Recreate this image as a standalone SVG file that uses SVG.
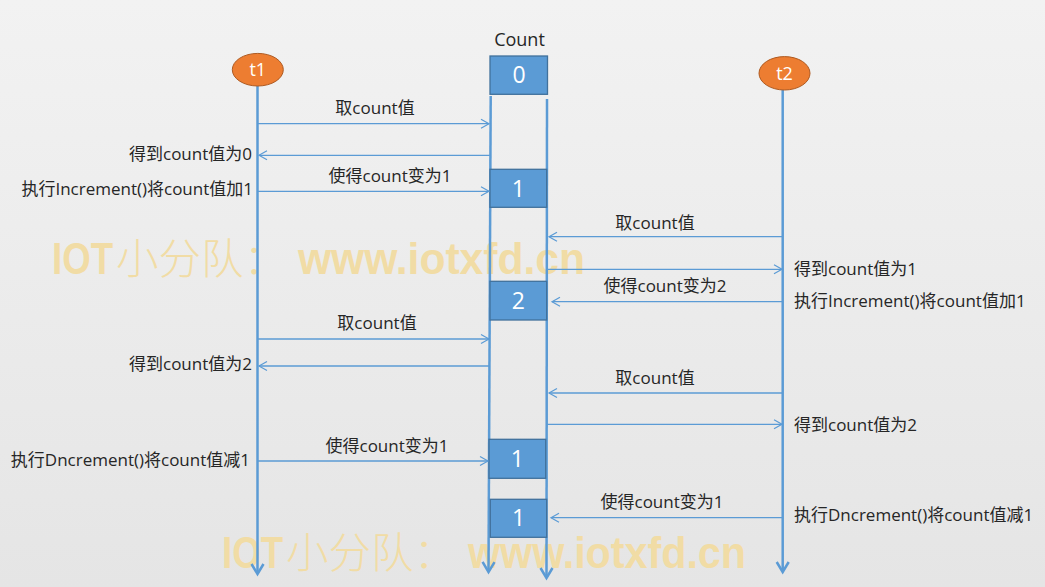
<svg xmlns="http://www.w3.org/2000/svg" width="1045" height="587" viewBox="0 0 1045 587">
<defs>
<linearGradient id="bg" x1="0" y1="0" x2="0" y2="1">
<stop offset="0" stop-color="#F2F2F2"/>
<stop offset="1" stop-color="#E5E5E5"/>
</linearGradient>
<marker id="ah" markerUnits="userSpaceOnUse" markerWidth="12" markerHeight="12" viewBox="0 0 12 12" refX="9" refY="6" orient="auto">
<path d="M1,1.5 L9,6 L1,10.5" fill="none" stroke="#5B9BD5" stroke-width="1.2"/>
</marker>
<marker id="vh" markerUnits="userSpaceOnUse" markerWidth="16" markerHeight="16" viewBox="0 0 16 16" refX="12" refY="8" orient="auto">
<path d="M2,2 L12,8 L2,14" fill="none" stroke="#5B9BD5" stroke-width="2.5"/>
</marker>
</defs>
<style>
.life{stroke:#5B9BD5;stroke-width:2.5;fill:none;marker-end:url(#vh)}
.msg{stroke:#5B9BD5;stroke-width:1.3;fill:none;marker-end:url(#ah)}
.lbl{font-family:"Open Sans","Noto Sans CJK SC",sans-serif;font-size:17px;fill:#262626}
.mid{text-anchor:middle}
.end{text-anchor:end}
.box{fill:#5B9BD5;stroke:#41719C;stroke-width:1.3}
.num{font-family:"Open Sans","Noto Sans CJK SC",sans-serif;font-size:23px;fill:#FFFFFF;text-anchor:middle}
.thr{fill:#ED7D31;stroke:#AE5A21;stroke-width:1}
.tt{font-family:"Open Sans",sans-serif;font-size:18px;fill:#FFFFFF;text-anchor:middle}
.wm{fill:#F1DCA5}
.wl{font-family:"Liberation Sans",sans-serif;font-weight:bold;font-size:45px}
.wc{font-family:"Noto Sans CJK SC",sans-serif;font-weight:300;font-size:42px}
</style>
<rect x="0" y="0" width="1045" height="587" fill="url(#bg)"/>
<g id="watermark" class="wm">
<text y="274"><tspan class="wl" x="52" textLength="61" lengthAdjust="spacingAndGlyphs">IOT</tspan><tspan class="wc" x="116" textLength="170" lengthAdjust="spacingAndGlyphs">小分队：</tspan><tspan class="wl" x="298" textLength="287" lengthAdjust="spacingAndGlyphs">www.iotxfd.cn</tspan></text>
<text y="568"><tspan class="wl" x="222" textLength="61" lengthAdjust="spacingAndGlyphs">IOT</tspan><tspan class="wc" x="286" textLength="170" lengthAdjust="spacingAndGlyphs">小分队：</tspan><tspan class="wl" x="468" textLength="278" lengthAdjust="spacingAndGlyphs">www.iotxfd.cn</tspan></text>
</g>
<g id="lifelines">
<line class="life" x1="257.5" y1="86" x2="257.5" y2="574"/>
<line class="life" x1="490.7" y1="96" x2="488.5" y2="572"/>
<line class="life" x1="547" y1="99" x2="546.5" y2="578"/>
<line class="life" x1="782.7" y1="90" x2="782.7" y2="572"/>
</g>
<g id="t1">
<ellipse class="thr" cx="257.8" cy="69.7" rx="25.5" ry="16.3"/>
<text class="tt" x="257.8" y="76">t1</text>
</g>
<g id="t2">
<ellipse class="thr" cx="784.5" cy="73.3" rx="25.5" ry="16.7"/>
<text class="tt" x="784.5" y="79.5">t2</text>
</g>
<g id="count">
<text class="lbl mid" x="519.5" y="46" style="font-size:18px">Count</text>
<rect class="box" x="490" y="56" width="57.5" height="38.3"/>
<text class="num" x="519" y="83">0</text>
</g>
<g id="v1a">
<rect class="box" x="490" y="169.3" width="56.7" height="38"/>
<text class="num" x="518.3" y="196.5">1</text>
</g>
<g id="v2">
<rect class="box" x="490" y="281.3" width="56.7" height="38.7"/>
<text class="num" x="518.3" y="309">2</text>
</g>
<g id="v1b">
<rect class="box" x="489" y="439.3" width="56.7" height="39"/>
<text class="num" x="517.3" y="467">1</text>
</g>
<g id="v1c">
<rect class="box" x="490.3" y="499.3" width="56.4" height="38"/>
<text class="num" x="518.5" y="526">1</text>
</g>
<g id="connectors">
<line class="msg" x1="258" y1="123.7" x2="489" y2="123.7"/>
<line class="msg" x1="490" y1="155.3" x2="259" y2="155.3"/>
<line class="msg" x1="258" y1="191.3" x2="489" y2="191.3"/>
<line class="msg" x1="782" y1="236.7" x2="549" y2="236.7"/>
<line class="msg" x1="547" y1="269.3" x2="782" y2="269.3"/>
<line class="msg" x1="782" y1="301.7" x2="552" y2="301.7"/>
<line class="msg" x1="258" y1="339" x2="489" y2="339"/>
<line class="msg" x1="490" y1="366" x2="259" y2="366"/>
<line class="msg" x1="782" y1="393" x2="549" y2="393"/>
<line class="msg" x1="547" y1="424.3" x2="782" y2="424.3"/>
<line class="msg" x1="258" y1="461" x2="488" y2="461"/>
<line class="msg" x1="782" y1="517.7" x2="551" y2="517.7"/>
</g>
<g id="labels">
<text class="lbl mid" x="375" y="114">取count值</text>
<text class="lbl end" x="252" y="160">得到count值为0</text>
<text class="lbl mid" x="390" y="182">使得count变为1</text>
<text class="lbl end" x="253" y="195">执行Increment()将count值加1</text>
<text class="lbl mid" x="655" y="229">取count值</text>
<text class="lbl" x="794" y="275">得到count值为1</text>
<text class="lbl mid" x="665" y="292">使得count变为2</text>
<text class="lbl" x="794" y="307">执行Increment()将count值加1</text>
<text class="lbl mid" x="377" y="329">取count值</text>
<text class="lbl end" x="252" y="370">得到count值为2</text>
<text class="lbl mid" x="655" y="384">取count值</text>
<text class="lbl" x="794" y="431">得到count值为2</text>
<text class="lbl mid" x="387" y="452">使得count变为1</text>
<text class="lbl end" x="250" y="466">执行Dncrement()将count值减1</text>
<text class="lbl mid" x="662" y="508">使得count变为1</text>
<text class="lbl" x="794" y="521">执行Dncrement()将count值减1</text>
</g>
</svg>
